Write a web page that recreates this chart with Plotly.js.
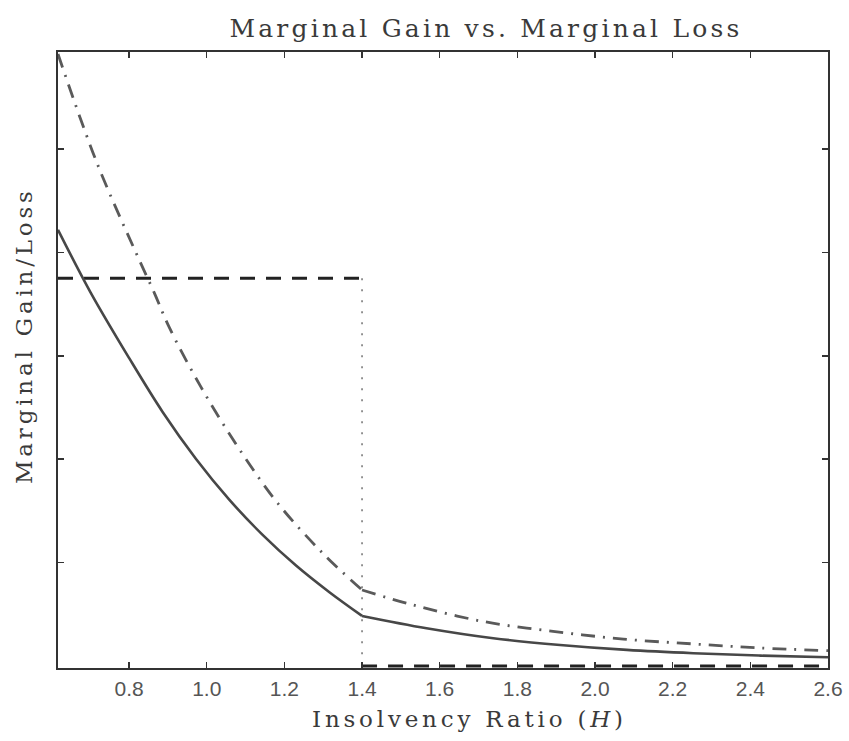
<!DOCTYPE html>
<html>
<head>
<meta charset="utf-8">
<script src="https://cdn.plot.ly/plotly-3.0.1.min.js"></script>
<style>
  html, body { margin: 0; padding: 0; background: #fff; }
  #chart { width: 849px; height: 741px; }
  .gtitle { letter-spacing: 3.2px; }
  .annotation-text { letter-spacing: 3.8px; }
</style>
</head>
<body>
<div id="chart"></div>
<script>
// Insolvency ratio H (x values) and marginal gain/loss (y values)
var gainLeftH   = [0.617, 0.7, 0.8, 0.886, 0.972, 1.058, 1.144, 1.23, 1.316, 1.4];
var gainLeftV   = [4.22, 3.62, 2.98, 2.46, 2.005, 1.609, 1.268, 0.971, 0.713, 0.484];
var gainRightH  = [1.4, 1.566, 1.738, 1.91, 2.082, 2.253, 2.426, 2.6];
var gainRightV  = [0.484, 0.365, 0.268, 0.203, 0.155, 0.123, 0.10, 0.084];

var lossLeftH   = [0.617, 0.718, 0.826, 0.865, 0.903, 0.985, 1.08, 1.183, 1.299, 1.4];
var lossLeftV   = [5.92, 4.86, 3.93, 3.61, 3.28, 2.70, 2.12, 1.574, 1.09, 0.735];
var lossRightH  = [1.4, 1.531, 1.712, 1.892, 2.073, 2.253, 2.425, 2.6];
var lossRightV  = [0.735, 0.59, 0.43, 0.335, 0.26, 0.213, 0.174, 0.148];

var stepHighH = [0.617, 1.4];
var stepHighV = [3.75, 3.75];
var stepLowH  = [1.4, 2.6];
var stepLowV  = [0, 0];
var dropH = [1.4, 1.4];
var dropV = [3.75, 0];

var xTickVals = [0.8, 1.0, 1.2, 1.4, 1.6, 1.8, 2.0, 2.2, 2.4, 2.6];
var xTickText = ['0.8', '1.0', '1.2', '1.4', '1.6', '1.8', '2.0', '2.2', '2.4', '2.6'];
var yTickVals = [1, 2, 3, 4, 5];

var solidStyle = {color: '#474747', width: 2.6, shape: 'spline', smoothing: 1};
var dashDotStyle = {color: '#5a5a5a', width: 2.8, dash: '14px,8px,2px,8px', shape: 'spline', smoothing: 1};
var dashStyle = {color: '#222222', width: 3, dash: '15px,11px'};
var dotStyle = {color: '#7a7a7a', width: 1.6, dash: '2px,9px'};

var traces = [
  {x: stepHighH, y: stepHighV, mode: 'lines', line: dashStyle, name: 'Marginal gain (step, high)'},
  {x: stepLowH, y: stepLowV, mode: 'lines', line: dashStyle, name: 'Marginal gain (step, low)'},
  {x: dropH, y: dropV, mode: 'lines', line: dotStyle, name: 'Threshold'},
  {x: lossLeftH, y: lossLeftV, mode: 'lines', line: dashDotStyle, name: 'Marginal loss'},
  {x: lossRightH, y: lossRightV, mode: 'lines', line: dashDotStyle, name: 'Marginal loss '},
  {x: gainLeftH, y: gainLeftV, mode: 'lines', line: solidStyle, name: 'Marginal gain'},
  {x: gainRightH, y: gainRightV, mode: 'lines', line: solidStyle, name: 'Marginal gain '}
];

var serif = '"DejaVu Serif", "Liberation Serif", serif';

var layout = {
  width: 849,
  height: 741,
  paper_bgcolor: '#ffffff',
  plot_bgcolor: '#ffffff',
  showlegend: false,
  margin: {l: 58, r: 21, t: 52, b: 73},
  title: {
    text: 'Marginal Gain vs. Marginal Loss',
    x: 486 / 849, xanchor: 'center', xref: 'container',
    y: 1 - 28 / 741, yanchor: 'middle', yref: 'container',
    font: {family: serif, size: 25, color: '#3a3a3a'}
  },
  xaxis: {
    range: [0.617, 2.6],
    tickvals: xTickVals,
    ticktext: xTickText,
    ticks: 'inside', ticklen: 6, tickwidth: 1.5, tickcolor: '#333',
    showline: true, linecolor: '#333', linewidth: 2.4, mirror: 'ticks',
    showgrid: false, zeroline: false,
    tickfont: {family: '"Liberation Sans", Arial, sans-serif', size: 21, color: '#555'}
  },
  yaxis: {
    range: [-0.02, 5.94],
    tickvals: yTickVals,
    showticklabels: false,
    ticks: 'inside', ticklen: 6, tickwidth: 1.5, tickcolor: '#333',
    showline: true, linecolor: '#333', linewidth: 2.4, mirror: 'ticks',
    showgrid: false, zeroline: false
  },
  annotations: [
    {
      text: 'Insolvency Ratio (<i>H</i>)',
      xref: 'paper', yref: 'paper',
      x: (470 - 58) / (849 - 58 - 21), y: 0,
      xanchor: 'center', yanchor: 'top', yshift: -36,
      showarrow: false,
      font: {family: serif, size: 23, color: '#3a3a3a'}
    },
    {
      text: 'Marginal Gain/Loss',
      xref: 'paper', yref: 'paper',
      x: 0, y: (741 - 73 - 336) / (741 - 73 - 52),
      xanchor: 'right', yanchor: 'middle', xshift: -19,
      textangle: -90,
      showarrow: false,
      font: {family: serif, size: 23, color: '#3a3a3a'}
    }
  ]
};

Plotly.newPlot('chart', traces, layout, {displayModeBar: false, staticPlot: true});
</script>
</body>
</html>
